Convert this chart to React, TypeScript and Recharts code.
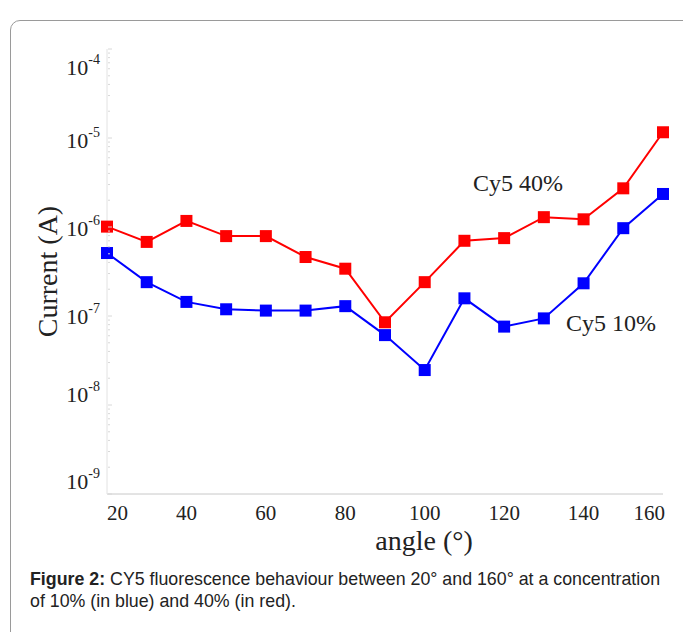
import { Label, Line, LineChart, XAxis, YAxis } from "recharts";

// angle (deg) vs current (A)
const angles = [20, 30, 40, 50, 60, 70, 80, 90, 100, 110, 120, 130, 140, 150, 160];
const cy5Ten = [5.1e-7, 2.4e-7, 1.44e-7, 1.19e-7, 1.15e-7, 1.15e-7, 1.29e-7, 6.1e-8, 2.47e-8, 1.58e-7, 7.6e-8, 9.4e-8, 2.33e-7, 9.7e-7, 2.35e-6];
const cy5Forty = [1.01e-6, 6.8e-7, 1.17e-6, 7.9e-7, 7.9e-7, 4.6e-7, 3.4e-7, 8.5e-8, 2.4e-7, 7.0e-7, 7.5e-7, 1.29e-6, 1.22e-6, 2.72e-6, 1.16e-5];

const xTicks = [20, 40, 60, 80, 100, 120, 140, 160];
const decades = [1e-9, 1e-8, 1e-7, 1e-6, 1e-5, 1e-4];
const minorSteps = [2, 3, 4, 5, 6, 7, 8, 9];

// the original figure's decade labels sit a little off their ticks
const labelNudge: Record<number, number> = { [-4]: 18, [-5]: 2, [-6]: 1, [-7]: 0, [-8]: -11, [-9]: -13 };

const yTicks = [
  ...decades,
  ...decades.slice(0, -1).flatMap((d) => minorSteps.map((m) => d * m)),
];

const data = angles.map((angle, i) => ({
  angle,
  ten: cy5Ten[i],
  forty: cy5Forty[i],
}));

const serif = '"Liberation Serif", "Times New Roman", serif';
const sans = '"Liberation Sans", Arial, sans-serif';

function isDecade(v: number) {
  const e = Math.round(Math.log10(v));
  return Math.abs(v - Math.pow(10, e)) < v * 1e-6;
}

function LeftTick(props: any) {
  const { x, y, payload } = props;
  const v = payload.value;
  const major = isDecade(v);
  const exp = Math.round(Math.log10(v));
  return (
    <g>
      <line x1={x + 8} x2={x + (major ? 12 : 10)} y1={y} y2={y} stroke="#d8d8d8" />
      {major && (
        <text x={x} y={y + (labelNudge[exp] || 0)} dy={8} textAnchor="end" fontFamily={serif} fontSize={22} fill="#222">
          10
          <tspan fontSize={14} dy={-11}>{String(exp)}</tspan>
        </text>
      )}
    </g>
  );
}

function RightTick(props: any) {
  const { x, y, payload } = props;
  const major = isDecade(payload.value);
  return <line x1={x - 1} x2={x - (major ? 8 : 5)} y1={y} y2={y} stroke="#dcdcdc" />;
}

function BottomTick(props: any) {
  const { x, y, payload, index } = props;
  const last = index === xTicks.length - 1;
  const anchor = index === 0 ? "start" : last ? "end" : "middle";
  return (
    <text x={last ? x + 2 : x} y={y} dy={15} textAnchor={anchor} fontFamily={serif} fontSize={21} fill="#222">
      {payload.value}
    </text>
  );
}

function Square(color: string) {
  return (props: any) => {
    const { cx, cy, index } = props;
    if (cx == null || cy == null) return <g key={index} />;
    return <rect key={index} x={cx - 6} y={cy - 6} width={12} height={12} fill={color} />;
  };
}

export default function App() {
  return (
    <div style={{ position: "absolute", left: 0, top: 0, width: 683, height: 632, background: "#fff", overflow: "hidden" }}>
      <div
        style={{
          position: "absolute",
          left: 10,
          top: 20,
          width: 700,
          height: 660,
          border: "1px solid #9a9a9a",
          borderRadius: 10,
        }}
      />
      <div style={{ position: "absolute", left: 0, top: 0 }}>
        <LineChart width={683} height={560} data={data} margin={{ top: 49, right: 20, bottom: 6, left: 47 }}>
          <XAxis
            dataKey="angle"
            type="number"
            domain={[20, 160]}
            ticks={xTicks}
            interval={0}
            tickSize={0}
            tickMargin={11}
            height={60}
            axisLine={{ stroke: "#c8c8c8" }}
            tick={<BottomTick />}
          >
            <Label
              value="angle (°)"
              position="insideBottom"
              offset={4}
              dx={39}
              style={{ fontFamily: serif, fontSize: 28, fill: "#222" }}
            />
          </XAxis>
          <XAxis
            xAxisId="top"
            orientation="top"
            dataKey="angle"
            type="number"
            domain={[20, 160]}
            ticks={xTicks}
            tick={false}
            tickLine={false}
            height={0}
            axisLine={{ stroke: "#333", strokeWidth: 1.5 }}
          />
          <YAxis
            scale="log"
            type="number"
            domain={[1e-9, 1e-4]}
            allowDataOverflow
            ticks={yTicks}
            interval={0}
            width={60}
            tickSize={0}
            tickMargin={7}
            tickLine={false}
            axisLine={{ stroke: "#e2e2e2" }}
            tick={<LeftTick />}
          >
            <Label
              value="Current (A)"
              angle={-90}
              position="insideLeft"
              offset={0}
              style={{ fontFamily: serif, fontSize: 28, fill: "#222", textAnchor: "middle" }}
            />
          </YAxis>
          <YAxis
            yAxisId="right"
            orientation="right"
            scale="log"
            type="number"
            domain={[1e-9, 1e-4]}
            allowDataOverflow
            ticks={yTicks}
            interval={0}
            width={0}
            tickSize={0}
            tickMargin={0}
            tickLine={false}
            axisLine={{ stroke: "#f0f0f0" }}
            tick={<RightTick />}
          />
          <Line
            dataKey="forty"
            stroke="#ff0000"
            strokeWidth={2}
            dot={Square("#ff0000")}
            activeDot={false}
            isAnimationActive={false}
          />
          <Line
            dataKey="ten"
            stroke="#0000ff"
            strokeWidth={2}
            dot={Square("#0000ff")}
            activeDot={false}
            isAnimationActive={false}
          />
        </LineChart>
      </div>
      <div style={{ position: "absolute", left: 473, top: 171, fontFamily: serif, fontSize: 24, lineHeight: 1, color: "#222", whiteSpace: "nowrap" }}>
        Cy5 40%
      </div>
      <div style={{ position: "absolute", left: 566, top: 311, fontFamily: serif, fontSize: 24, lineHeight: 1, color: "#222", whiteSpace: "nowrap" }}>
        Cy5 10%
      </div>
      <div
        style={{
          position: "absolute",
          left: 30,
          top: 568,
          fontFamily: sans,
          fontSize: 17.8,
          lineHeight: "22px",
          color: "#222",
          whiteSpace: "nowrap",
        }}
      >
        <div>
          <b>Figure 2:</b> CY5 fluorescence behaviour between 20° and 160° at a concentration
        </div>
        <div>of 10% (in blue) and 40% (in red).</div>
      </div>
    </div>
  );
}
